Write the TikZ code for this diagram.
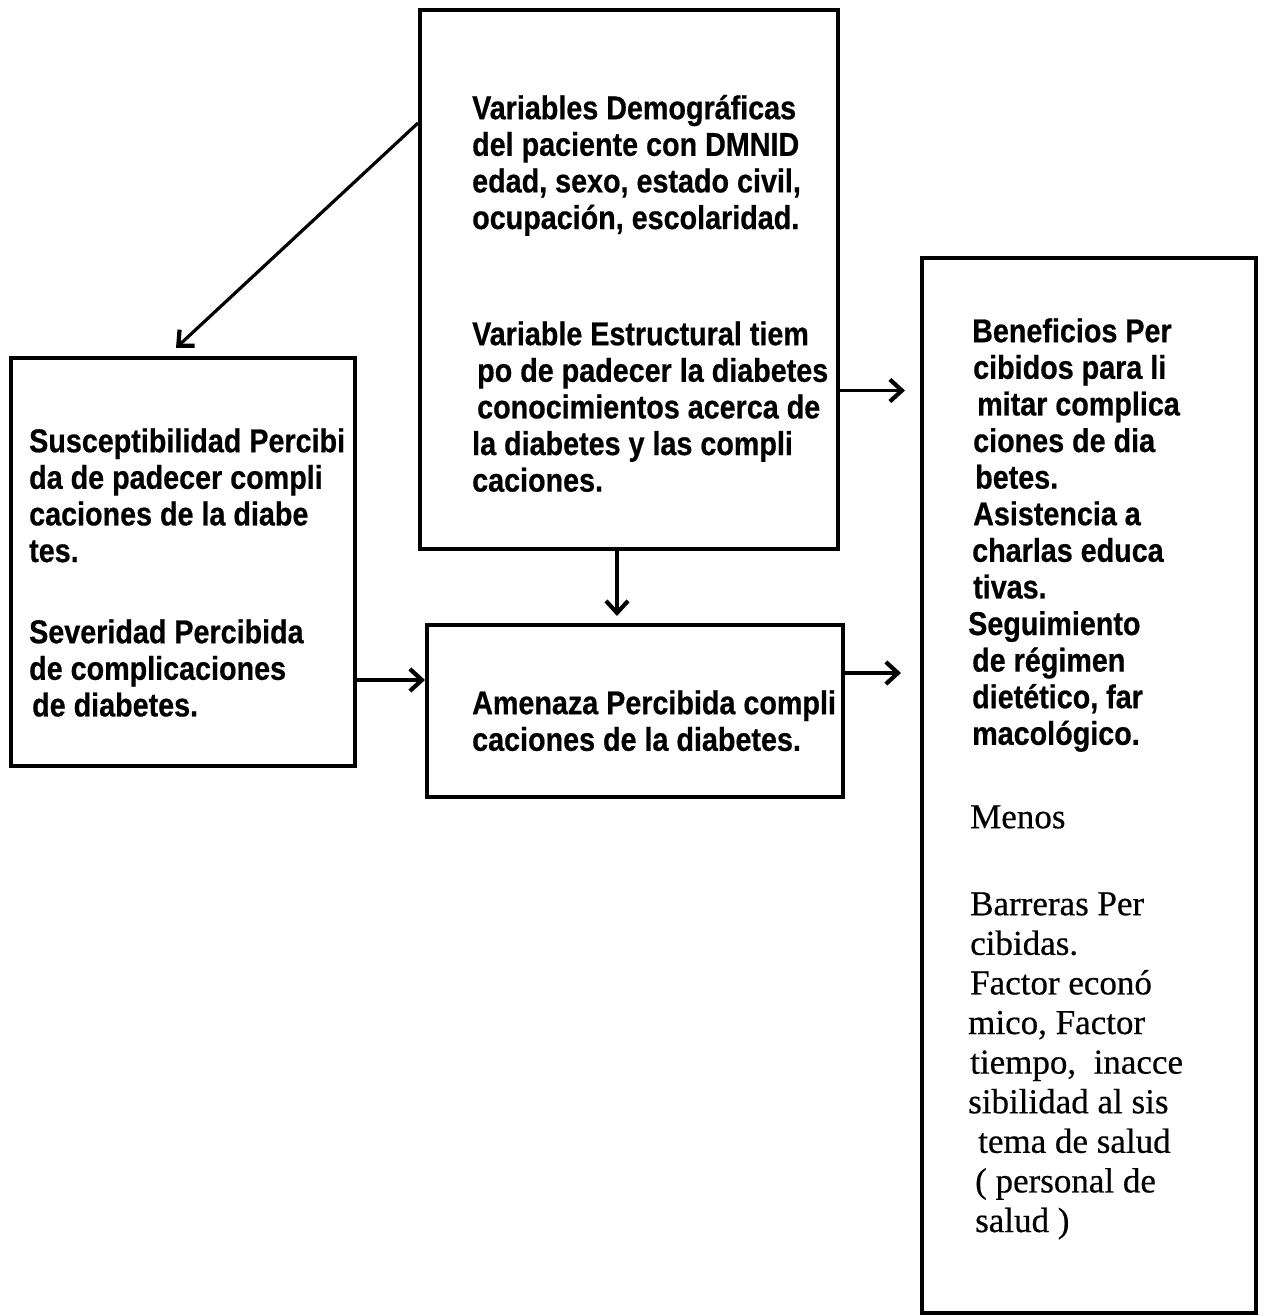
\documentclass[tikz,border=0pt]{standalone}
\usepackage{fontspec}
\usetikzlibrary{positioning,arrows.meta,calc}

\newfontfamily\boxsans{Liberation Sans}[FakeStretch=0.87, BoldFeatures={FakeBold=0.6}]
\newfontfamily\boxserif{Liberation Serif}[FakeBold=0.5]
\newcommand{\sanstext}{\fontsize{33}{36.6}\boxsans\bfseries}
\newcommand{\serftext}{\fontsize{35}{39.6}\boxserif}
\newcommand{\sansstrut}{\rule{0pt}{30pt}}
\newcommand{\serfstrut}{\rule{0pt}{32pt}}

\begin{document}
\begin{tikzpicture}[
  x=1pt, y=-1pt,
  box/.style={draw, line width=4pt, inner sep=0pt},
  txt/.style={anchor=north west, align=left, inner sep=0pt, font=\sanstext},
  serftxt/.style={anchor=north west, align=left, inner sep=0pt, font=\serftext},
  arrow/.style={-{Straight Barb[length=12pt,width=22pt,line width=1pt 1]}, line width=3.2pt}
]
\useasboundingbox (0,0) rectangle (1270,1316);

% Boxes
\node[box, minimum width=418pt, minimum height=539pt] (demog)   at (629,279.5) {};
\node[box, minimum width=344pt, minimum height=408pt] (suscep)  at (183,562) {};
\node[box, minimum width=416pt, minimum height=172pt] (amenaza) at (635,711) {};
\node[box, minimum width=334pt, minimum height=1055pt] (benef)  at (1089,785.5) {};

% Texts
\node[txt] (demogtxt) at (472,89)
  {\sansstrut Variables Demográficas\\del paciente con DMNID\\edad, sexo, estado civil,\\ocupación, escolaridad.};
\node[txt] (estructxt) at (472,315)
  {\sansstrut Variable Estructural tiem\\\hspace*{5pt}po de padecer la diabetes\\\hspace*{5pt}conocimientos acerca de\\la diabetes y las compli\\caciones.};
\node[txt] (suscetxt) at (29,422)
  {\sansstrut Susceptibilidad Percibi\\da de padecer compli\\caciones de la diabe\\tes.};
\node[txt] (severtxt) at (29,613)
  {\sansstrut Severidad Percibida\\de complicaciones\\\hspace*{3pt}de diabetes.};
\node[txt] (amenazatxt) at (472,684)
  {\sansstrut Amenaza Percibida compli\\caciones de la diabetes.};
\node[txt] (beneftxt) at (968,312)
  {\sansstrut\hspace*{4pt}Beneficios Per\\\hspace*{5pt}cibidos para li\\\hspace*{9pt}mitar complica\\\hspace*{5pt}ciones de dia\\\hspace*{7pt}betes.\\\hspace*{5pt}Asistencia a\\\hspace*{4pt}charlas educa\\\hspace*{5pt}tivas.\\Seguimiento\\\hspace*{4pt}de régimen\\\hspace*{4pt}dietético, far\\\hspace*{4pt}macológico.};
\node[serftxt] (menostxt) at (970,796) {\serfstrut Menos};
\node[serftxt] (barrtxt) at (968,883)
  {\serfstrut\hspace*{2pt}Barreras Per\\\hspace*{2pt}cibidas.\\\hspace*{2pt}Factor econó\\mico, Factor\\\hspace*{2pt}tiempo,~ inacce\\sibilidad al sis\\\hspace*{10pt}tema de salud\\\hspace*{7pt}( personal de\\\hspace*{7pt}salud )};

% Flows
\draw[arrow] ([yshift=-115pt]demog.north west) -- ([xshift=-7pt,yshift=8pt]suscep.north);
\draw[arrow, shorten >=15pt] ([yshift=-111pt]demog.east) -- ([yshift=-111pt]demog.east -| benef.west);
\draw[arrow, shorten >=7pt] ([xshift=-12pt]demog.south) -- ([xshift=-12pt]demog.south |- amenaza.north);
\draw[arrow] ([yshift=-118pt]suscep.east) -- ([yshift=-118pt]suscep.east -| amenaza.west);
\draw[arrow, shorten >=19pt] ([yshift=38pt]amenaza.east) -- ([yshift=38pt]amenaza.east -| benef.west);

\end{tikzpicture}
\end{document}
